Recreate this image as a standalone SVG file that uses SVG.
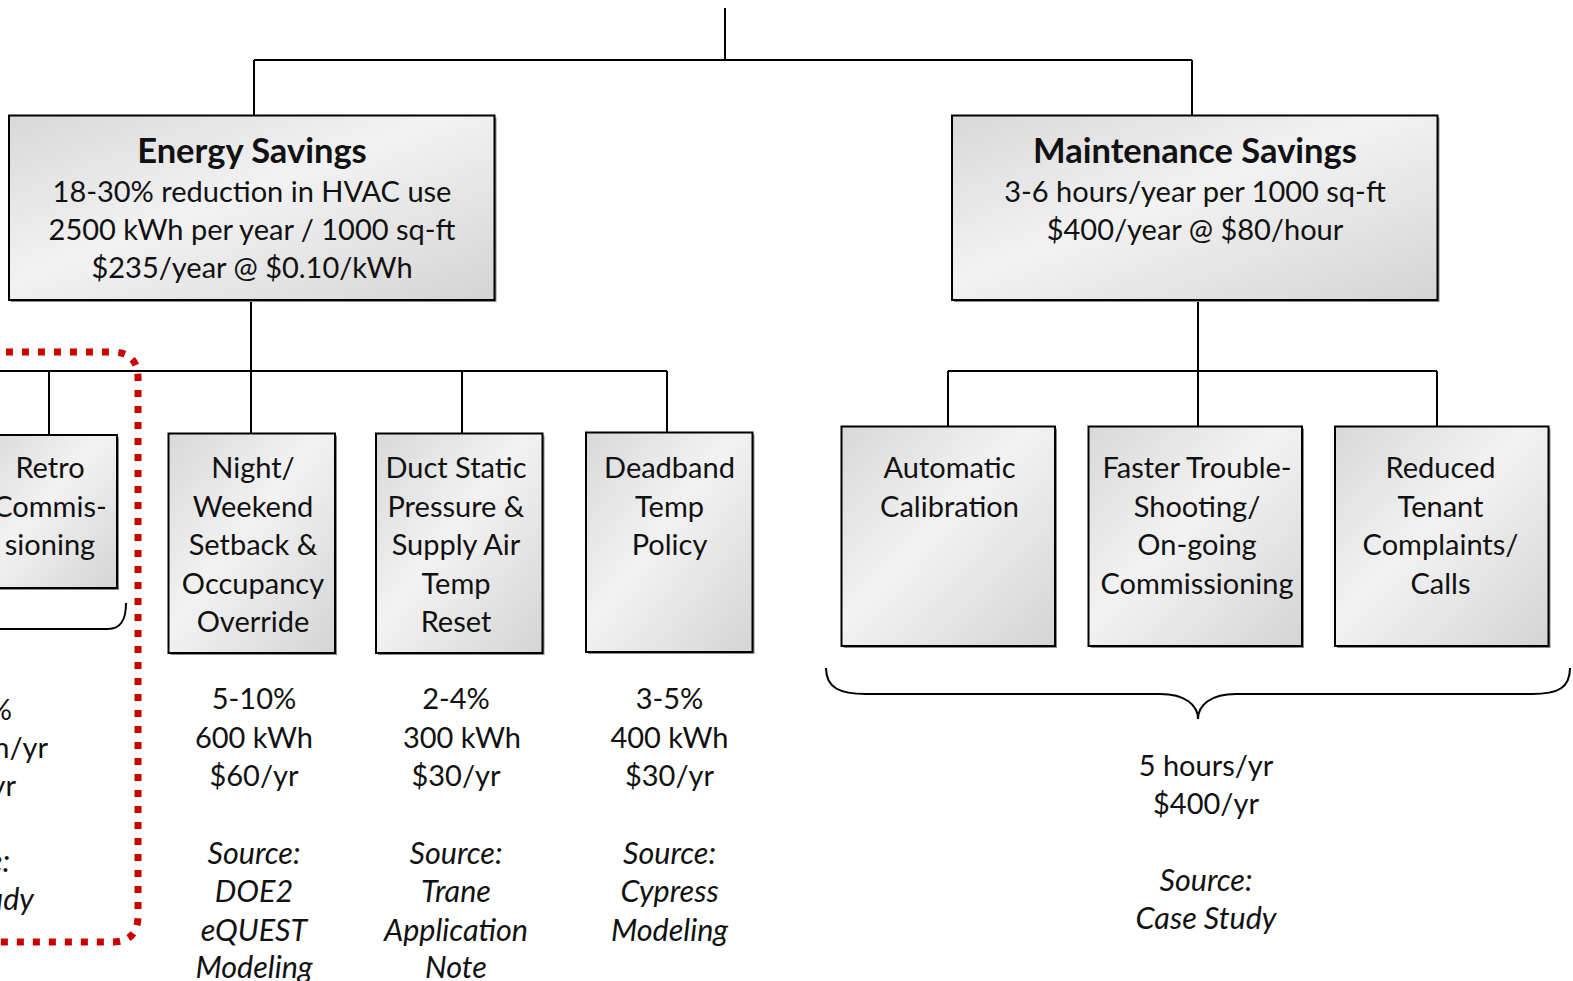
<svg xmlns="http://www.w3.org/2000/svg" width="1573" height="981" viewBox="0 0 1573 981">
<defs>
<linearGradient id="g" x1="0" y1="0" x2="1" y2="1">
<stop offset="0" stop-color="#d8d8d8"/>
<stop offset="0.45" stop-color="#f2f2f2"/>
<stop offset="1" stop-color="#d4d4d4"/>
</linearGradient>
<style>
.box{stroke:#000;stroke-width:2;fill:url(#g)}
.sh{fill:#8a8a8a}
.t{font-family:Lato,"Liberation Sans",sans-serif;font-size:29px;fill:#111;text-anchor:middle}
.e{text-anchor:end}
.b{font-weight:bold;font-size:34.5px}
.i{font-style:italic;font-size:30.5px}
.ln{stroke:#000;stroke-width:2;fill:none}
.red{stroke:#c80000;stroke-width:7;stroke-dasharray:7 9;fill:none}
</style>
</defs>
<rect width="1573" height="981" fill="#fff"/>

<g id="connectors">
<path class="ln" d="M725 8V60M254 60H1192M254 60V116M1192 60V116"/>
<path class="ln" d="M251 300V434M0 371H667M49 371V435M462 371V434M667 371V433"/>
<path class="ln" d="M1198 300V427M948 371H1437M948 371V427M1437 371V427"/>
<path class="ln" d="M826 668C826 688 840 694 866 694L1160 694C1185 694 1198 705 1198 719C1198 705 1211 694 1236 694L1532 694C1558 694 1570 688 1570 668"/>
<path class="ln" d="M126 603C126 620 121 629 108 629L-10 629"/>
</g>

<g id="energy">
<rect class="sh" x="11" y="117.5" width="485.5" height="184.5"/>
<rect class="box" x="9" y="115.5" width="485.5" height="184.5"/>
<text class="t b" x="252" y="162.5">Energy Savings</text>
<text class="t" x="252" y="201.5">18-30% reduction in HVAC use</text>
<text class="t" x="252" y="239.5">2500 kWh per year / 1000 sq-ft</text>
<text class="t" x="252" y="277.5">$235/year @ $0.10/kWh</text>
</g>

<g id="maintenance">
<rect class="sh" x="954" y="117.5" width="485.5" height="184.5"/>
<rect class="box" x="952" y="115.5" width="485.5" height="184.5"/>
<text class="t b" x="1195" y="162.5">Maintenance Savings</text>
<text class="t" x="1195" y="201.5">3-6 hours/year per 1000 sq-ft</text>
<text class="t" x="1195" y="240">$400/year @ $80/hour</text>
</g>

<g id="retro">
<rect class="sh" x="-18" y="437" width="137" height="153"/>
<rect class="box" x="-20" y="435" width="137" height="153"/>
<text class="t" x="50" y="478">Retro</text>
<text class="t" x="50" y="517">Commis-</text>
<text class="t" x="50" y="555">sioning</text>
<text class="t e" x="12" y="720">%</text>
<text class="t e" x="48" y="758">kWh/yr</text>
<text class="t e" x="16" y="796">/yr</text>
<text class="t e i" x="10" y="872">Source:</text>
<text class="t e i" x="34" y="910">Case Study</text>
</g>

<g id="night">
<rect class="sh" x="170.5" y="435.5" width="166.5" height="219.5"/>
<rect class="box" x="168.5" y="433.5" width="166.5" height="219.5"/>
<text class="t" x="253" y="478">Night/</text>
<text class="t" x="253" y="516.5">Weekend</text>
<text class="t" x="253" y="555">Setback &amp;</text>
<text class="t" x="253" y="593.5">Occupancy</text>
<text class="t" x="253" y="632">Override</text>
<text class="t" x="254" y="709">5-10%</text>
<text class="t" x="254" y="747.5">600 kWh</text>
<text class="t" x="254" y="785.5">$60/yr</text>
<text class="t i" x="254" y="864">Source:</text>
<text class="t i" x="254" y="902">DOE2</text>
<text class="t i" x="254" y="940.5">eQUEST</text>
<text class="t i" x="254" y="978">Modeling</text>
</g>

<g id="duct">
<rect class="sh" x="378" y="435.5" width="166.5" height="219.5"/>
<rect class="box" x="376" y="433.5" width="166.5" height="219.5"/>
<text class="t" x="456" y="478">Duct Static</text>
<text class="t" x="456" y="516.5">Pressure &amp;</text>
<text class="t" x="456" y="555">Supply Air</text>
<text class="t" x="456" y="593.5">Temp</text>
<text class="t" x="456" y="632">Reset</text>
<text class="t" x="456" y="709">2-4%</text>
<text class="t" x="462" y="747.5">300 kWh</text>
<text class="t" x="456" y="785.5">$30/yr</text>
<text class="t i" x="456" y="864">Source:</text>
<text class="t i" x="456" y="902">Trane</text>
<text class="t i" x="456" y="940.5">Application</text>
<text class="t i" x="456" y="978">Note</text>
</g>

<g id="deadband">
<rect class="sh" x="588" y="434.5" width="166.5" height="219.5"/>
<rect class="box" x="586" y="432.5" width="166.5" height="219.5"/>
<text class="t" x="669.5" y="478">Deadband</text>
<text class="t" x="669.5" y="516.5">Temp</text>
<text class="t" x="669.5" y="555">Policy</text>
<text class="t" x="669.5" y="709">3-5%</text>
<text class="t" x="669.5" y="747.5">400 kWh</text>
<text class="t" x="669.5" y="785.5">$30/yr</text>
<text class="t i" x="669.5" y="864">Source:</text>
<text class="t i" x="669.5" y="902">Cypress</text>
<text class="t i" x="669.5" y="940.5">Modeling</text>
</g>

<g id="auto">
<rect class="sh" x="843.5" y="428.5" width="213.5" height="219.5"/>
<rect class="box" x="841.5" y="426.5" width="213.5" height="219.5"/>
<text class="t" x="949.5" y="478">Automatic</text>
<text class="t" x="949.5" y="516.5">Calibration</text>
</g>

<g id="faster">
<rect class="sh" x="1090.5" y="428.5" width="213.5" height="219.5"/>
<rect class="box" x="1088.5" y="426.5" width="213.5" height="219.5"/>
<text class="t" x="1197" y="478">Faster Trouble-</text>
<text class="t" x="1197" y="516.5">Shooting/</text>
<text class="t" x="1197" y="555">On-going</text>
<text class="t" x="1197" y="593.5">Commissioning</text>
</g>

<g id="reduced">
<rect class="sh" x="1337" y="428.5" width="213.5" height="219.5"/>
<rect class="box" x="1335" y="426.5" width="213.5" height="219.5"/>
<text class="t" x="1440.5" y="478">Reduced</text>
<text class="t" x="1440.5" y="516.5">Tenant</text>
<text class="t" x="1440.5" y="555">Complaints/</text>
<text class="t" x="1440.5" y="593.5">Calls</text>
</g>

<g id="maint-values">
<text class="t" x="1206" y="775.5">5 hours/yr</text>
<text class="t" x="1206" y="813.5">$400/yr</text>
<text class="t i" x="1206" y="890.5">Source:</text>
<text class="t i" x="1206" y="929">Case Study</text>
</g>

<g id="highlight">
<path class="red" d="M-10 352H112Q138 352 138 378V916Q138 942 112 942H-10"/>
</g>
</svg>
